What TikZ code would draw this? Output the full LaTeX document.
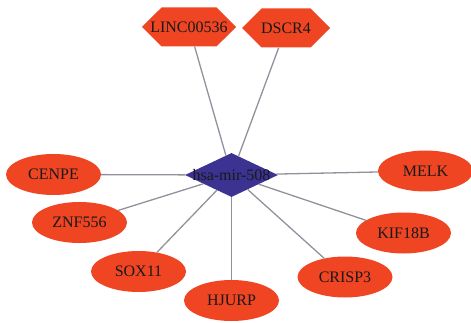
\documentclass[tikz,border=0pt]{standalone}
\usepackage{fontspec}
\setmainfont{Liberation Serif}
\usepackage{tikz}
\usetikzlibrary{shapes.geometric, shapes.symbols}

\definecolor{genered}{RGB}{239,69,35}
\definecolor{mirblue}{RGB}{60,50,145}
\definecolor{edgegray}{RGB}{145,145,155}

\begin{document}
\begin{tikzpicture}[x=1pt, y=-1pt,
        every node/.style={font=\fontsize{16}{19}\selectfont, text=black!90},
        every label/.style={font=\fontsize{16}{19}\selectfont, text=black!90, inner sep=0pt},
        gene/.style={ellipse, fill=genered, minimum width=95pt, minimum height=41pt, inner sep=0pt},
        lnc/.style={signal, signal to=west and east, signal pointer angle=90, fill=genered,
                    minimum width=#1, minimum height=39pt, inner sep=0pt},
        mirna/.style={diamond, fill=mirblue, minimum width=93pt, minimum height=44pt, inner sep=0pt},
        edge/.style={draw=edgegray, line width=1.3pt}]
    \useasboundingbox (0,0) rectangle (471,323);

    \node[mirna, label=center:{hsa-mir-508}] (mir) at (231.5,175) {};

    \node[lnc=94pt, label=center:{LINC00536}] (linc) at (189,27) {};
    \node[lnc=88pt, label=center:{DSCR4}] (dscr) at (286,28) {};

    \node[gene] (cenpe) at (53.5,174.5) {CENPE};
    \node[gene] (znf) at (79.5,222.5) {ZNF556};
    \node[gene] (sox) at (138.5,271.5) {SOX11};
    \node[gene] (hjurp) at (231.5,300.5) {HJURP};
    \node[gene] (crisp) at (345,277) {CRISP3};
    \node[gene] (kif) at (403.5,233) {KIF18B};
    \node[gene] (melk) at (425.5,171) {MELK};

    \foreach \g in {linc, dscr, cenpe, znf, sox, hjurp, crisp, kif, melk} {
        \draw[edge] (mir) -- (\g);
    }
\end{tikzpicture}
\end{document}
